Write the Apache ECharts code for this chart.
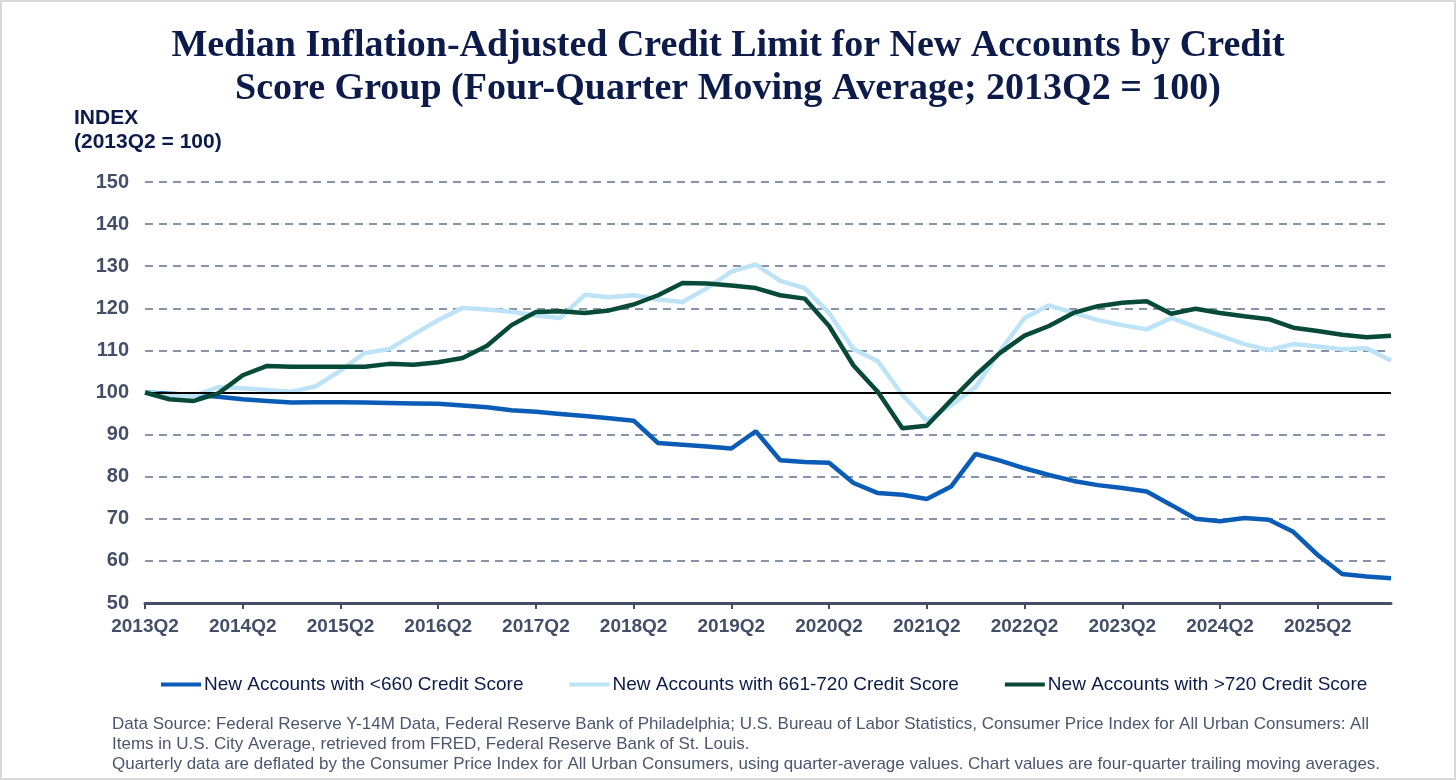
<!DOCTYPE html>
<html>
<head>
<meta charset="utf-8">
<title>Median Inflation-Adjusted Credit Limit</title>
<script src="https://cdn.jsdelivr.net/npm/echarts@6/dist/echarts.min.js"></script>
<style>
  html, body { margin: 0; padding: 0; background: #fff; }
  #chart { width: 1456px; height: 780px; box-sizing: border-box; border: 2px solid #d9d9d9; }
</style>
</head>
<body>
<div id="chart"></div>
<script>
// quarters on the x axis
var quarters = [
    '2013Q2', '2013Q3', '2013Q4', '2014Q1', '2014Q2', '2014Q3', '2014Q4', '2015Q1',
    '2015Q2', '2015Q3', '2015Q4', '2016Q1', '2016Q2', '2016Q3', '2016Q4', '2017Q1',
    '2017Q2', '2017Q3', '2017Q4', '2018Q1', '2018Q2', '2018Q3', '2018Q4', '2019Q1',
    '2019Q2', '2019Q3', '2019Q4', '2020Q1', '2020Q2', '2020Q3', '2020Q4', '2021Q1',
    '2021Q2', '2021Q3', '2021Q4', '2022Q1', '2022Q2', '2022Q3', '2022Q4', '2023Q1',
    '2023Q2', '2023Q3', '2023Q4', '2024Q1', '2024Q2', '2024Q3', '2024Q4', '2025Q1',
    '2025Q2', '2025Q3', '2025Q4', '2026Q1'
];

// <660
var lowScore = [
    100, 99.7, 99.4, 99.0, 98.4, 98.0, 97.6, 97.7,
    97.7, 97.6, 97.5, 97.4, 97.3, 96.9, 96.5, 95.8,
    95.4, 94.9, 94.4, 93.9, 93.3, 88.0, 87.6, 87.2,
    86.7, 90.8, 83.9, 83.5, 83.3, 78.5, 76.1, 75.7,
    74.7, 77.7, 85.4, 83.8, 82.0, 80.4, 79.0, 78.0,
    77.3, 76.5, 73.3, 70.0, 69.4, 70.2, 69.8, 66.9,
    61.4, 56.9, 56.3, 55.9
];

// 661-720
var midScore = [
    100, 99.4, 99.2, 101.3, 101.0, 100.6, 100.2, 101.5,
    105.2, 109.4, 110.3, 113.8, 117.2, 120.1, 119.7, 119.2,
    118.3, 117.7, 123.2, 122.6, 123.1, 122.1, 121.5, 124.8,
    128.7, 130.4, 126.5, 124.8, 118.9, 110.3, 107.4, 99.4,
    93.3, 97.0, 101.3, 109.9, 117.7, 120.7, 118.9, 117.2,
    116.0, 115.0, 117.7, 115.6, 113.5, 111.5, 110.1, 111.5,
    110.9, 110.3, 110.5, 107.6
];

// >720
var highScore = [
    100, 98.4, 98.0, 99.8, 104.1, 106.3, 106.1, 106.1,
    106.1, 106.1, 106.8, 106.6, 107.2, 108.2, 111.1, 116.0,
    119.1, 119.3, 118.9, 119.5, 120.9, 123.1, 126.0, 125.9,
    125.4, 124.8, 123.1, 122.3, 115.8, 106.4, 100.1, 91.5,
    92.1, 98.2, 104.1, 109.4, 113.5, 115.8, 118.9, 120.5,
    121.3, 121.7, 118.7, 119.9, 118.9, 118.1, 117.4, 115.4,
    114.6, 113.7, 113.1, 113.5
];

var seriesNames = [
    'New Accounts with <660 Credit Score',
    'New Accounts with 661-720 Credit Score',
    'New Accounts with >720 Credit Score'
];
var seriesColors = ['#0a5cb6', '#bde3f7', '#074a38'];

var footnote = [
    'Data Source: Federal Reserve Y-14M Data, Federal Reserve Bank of Philadelphia; U.S. Bureau of Labor Statistics, Consumer Price Index for All Urban Consumers: All',
    'Items in U.S. City Average, retrieved from FRED, Federal Reserve Bank of St. Louis.',
    'Quarterly data are deflated by the Consumer Price Index for All Urban Consumers, using quarter-average values. Chart values are four-quarter trailing moving averages.'
];

var navy = '#0c1b4a';
var axisGray = '#444e68';

var myChart = echarts.init(document.getElementById('chart'));

function makeSeries(idx, data) {
    return {
        name: seriesNames[idx],
        type: 'line',
        data: data,
        symbol: 'none',
        lineStyle: { width: 4.5, color: seriesColors[idx] },
        itemStyle: { color: seriesColors[idx] },
        z: 3 + idx
    };
}

var series = [
    {
        // solid reference line at 100
        name: 'base',
        type: 'line',
        data: [],
        silent: true,
        z: 2,
        markLine: {
            silent: true,
            symbol: 'none',
            label: { show: false },
            lineStyle: { color: '#000', width: 2, type: 'solid' },
            data: [{ yAxis: 100 }]
        }
    },
    makeSeries(0, lowScore),
    makeSeries(1, midScore),
    makeSeries(2, highScore)
];

var option = {
    animation: false,
    backgroundColor: '#fff',
    title: {
        text: 'Median Inflation-Adjusted Credit Limit for New Accounts by Credit\nScore Group (Four-Quarter Moving Average; 2013Q2 = 100)',
        left: 'center',
        top: 18,
        textStyle: {
            fontFamily: 'Liberation Serif',
            fontWeight: 'bold',
            fontSize: 38,
            color: navy,
            lineHeight: 43
        }
    },
    graphic: [
        {
            type: 'text',
            left: 72,
            top: 104,
            style: {
                text: 'INDEX\n(2013Q2 = 100)',
                fontFamily: 'Liberation Sans',
                fontWeight: 'bold',
                fontSize: 21,
                lineHeight: 24,
                fill: navy
            }
        },
        {
            type: 'text',
            left: 110,
            top: 712,
            style: {
                text: footnote.join('\n'),
                fontFamily: 'Liberation Sans',
                fontSize: 17,
                lineHeight: 20,
                fill: '#4d566f'
            }
        }
    ],
    legend: {
        data: seriesNames,
        top: 668,
        left: 154,
        itemWidth: 40,
        itemHeight: 4,
        itemGap: 46,
        icon: 'rect',
        textStyle: {
            fontFamily: 'Liberation Sans',
            fontSize: 19,
            color: navy,
            padding: [0, 0, 0, -2]
        }
    },
    grid: {
        left: 143,
        right: 63,
        top: 180,
        bottom: 175,
        containLabel: false
    },
    xAxis: {
        type: 'category',
        data: quarters,
        boundaryGap: false,
        axisLine: { lineStyle: { color: axisGray, width: 3 } },
        axisTick: {
            show: true,
            interval: 3,
            length: 6,
            lineStyle: { color: axisGray, width: 2 }
        },
        axisLabel: {
            interval: 3,
            margin: 14,
            fontFamily: 'Liberation Sans',
            fontWeight: 'bold',
            fontSize: 19,
            color: axisGray
        },
        splitLine: { show: false }
    },
    yAxis: {
        type: 'value',
        min: 50,
        max: 150,
        interval: 10,
        axisLine: { show: false },
        axisTick: { show: false },
        axisLabel: {
            margin: 16,
            fontFamily: 'Liberation Sans',
            fontWeight: 'bold',
            fontSize: 20,
            color: axisGray
        },
        splitLine: {
            show: true,
            lineStyle: { color: '#8793aa', width: 2, type: [8, 6] }
        }
    },
    series: series
};

myChart.setOption(option);
</script>
</body>
</html>
